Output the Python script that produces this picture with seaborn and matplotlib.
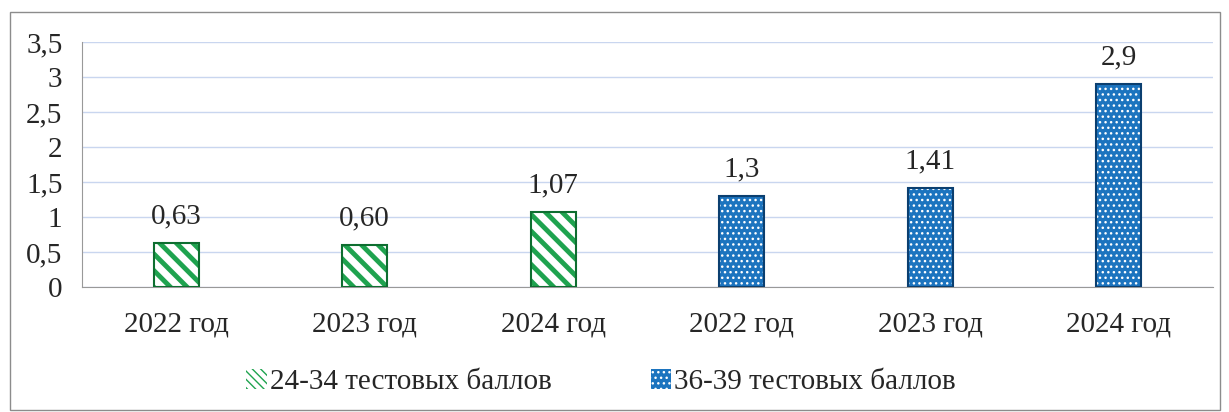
import pandas as pd
import numpy as np
import matplotlib.pyplot as plt
import seaborn as sns
from matplotlib.patches import Rectangle
from matplotlib.ticker import FixedLocator

# data
positions = ["2022 год", "2023 год", "2024 год", "2022 год ", "2023 год ", "2024 год  "]
tick_labels = ["2022 год", "2023 год", "2024 год", "2022 год", "2023 год", "2024 год"]
values = [0.63, 0.60, 1.07, 1.3, 1.41, 2.9]
value_labels = ["0,63", "0,60", "1,07", "1,3", "1,41", "2,9"]
groups = ["24-34 тестовых баллов"] * 3 + ["36-39 тестовых баллов"] * 3
y_ticks = [0, 0.5, 1, 1.5, 2, 2.5, 3, 3.5]
y_tick_labels = ["0", "0,5", "1", "1,5", "2", "2,5", "3", "3,5"]

df = pd.DataFrame({"pos": positions, "val": values, "grp": groups})

sns.set_style("white")
plt.rcParams['font.family'] = ['Liberation Serif', 'DejaVu Serif']
plt.rcParams['font.size'] = 21

green, green_edge = "#1fa34f", "#0e6e30"
blue, blue_edge = "#1c74bf", "#0b3f70"
palette = {"24-34 тестовых баллов": green, "36-39 тестовых баллов": blue}
# per group: face, hatch colour, hatch, hatch width, outline
styles = {"24-34 тестовых баллов": ("white", green, "\\\\", 3.5, green_edge),
          "36-39 тестовых баллов": (blue, "white", "...", 1.0, blue_edge)}


def hatch_rect(xy, w, h, grp, hatch=None, **kw):
    face, hcol, htch, hlw, _ = styles[grp]
    plt.rcParams['hatch.linewidth'] = hlw
    r = Rectangle(xy, w, h, facecolor=face, edgecolor=hcol, hatch=hatch or htch,
                  linewidth=0, **kw)
    if hasattr(r, "set_hatch_linewidth"):
        r.set_hatch_linewidth(hlw)
    return r


fig = plt.figure(figsize=(12.29, 4.12), dpi=100)
ax = fig.add_axes([0.0667, 0.3034, 0.9203, 0.5946])

sns.barplot(data=df, x="pos", y="val", hue="grp", palette=palette,
            dodge=False, width=0.24, ax=ax, legend=False)

bars = list(ax.patches)
for bar, grp in zip(bars, groups):
    bar.set_visible(False)
    ax.add_patch(hatch_rect(bar.get_xy(), bar.get_width(), bar.get_height(), grp, zorder=2))
    ax.add_patch(Rectangle(bar.get_xy(), bar.get_width(), bar.get_height(),
                           fill=False, edgecolor=styles[grp][4], linewidth=1.5, zorder=3))

for bar, lab in zip(bars, value_labels):
    ax.annotate(lab, (bar.get_x() + bar.get_width() / 2, bar.get_height()),
                xytext=(0, 10), textcoords="offset points",
                ha="center", va="bottom", fontsize=21)

ax.set_ylim(0, 3.5)
ax.set_xlim(-0.5, len(values) - 0.5)
ax.set_yticks(y_ticks)
ax.set_yticklabels(y_tick_labels)
ax.set_xticks(range(len(values)))
ax.set_xticklabels(tick_labels)
ax.xaxis.set_minor_locator(FixedLocator(np.arange(-0.5, len(values), 1)))
ax.tick_params(axis="x", which="major", length=0, pad=18)
ax.tick_params(axis="x", which="minor", length=6, color="#999999")
ax.tick_params(axis="y", length=6, color="#999999", pad=8)
ax.set_xlabel("")
ax.set_ylabel("")
ax.yaxis.grid(True, color="#c9d6ef", linewidth=1)
ax.set_axisbelow(True)
for s in ["top", "right"]:
    ax.spines[s].set_visible(False)
for s in ["left", "bottom"]:
    ax.spines[s].set_color("#999999")

# legend
handles = [hatch_rect((0, 0), 1, 1, "24-34 тестовых баллов", hatch="\\\\\\\\"),
           hatch_rect((0, 0), 1, 1, "36-39 тестовых баллов", hatch="...")]
fig.legend(handles, list(palette.keys()), loc="center", bbox_to_anchor=(0.489, 0.073),
           ncol=2, frameon=False, fontsize=21, handlelength=0.7, handleheight=0.7,
           handletextpad=0.1, columnspacing=3.4)

# outer chart border
fig.patches.append(Rectangle((0.008, 0.005), 0.985, 0.965, transform=fig.transFigure,
                             fill=False, edgecolor="#8c8c8c", linewidth=1))

fig.savefig("out.png", dpi=100)
